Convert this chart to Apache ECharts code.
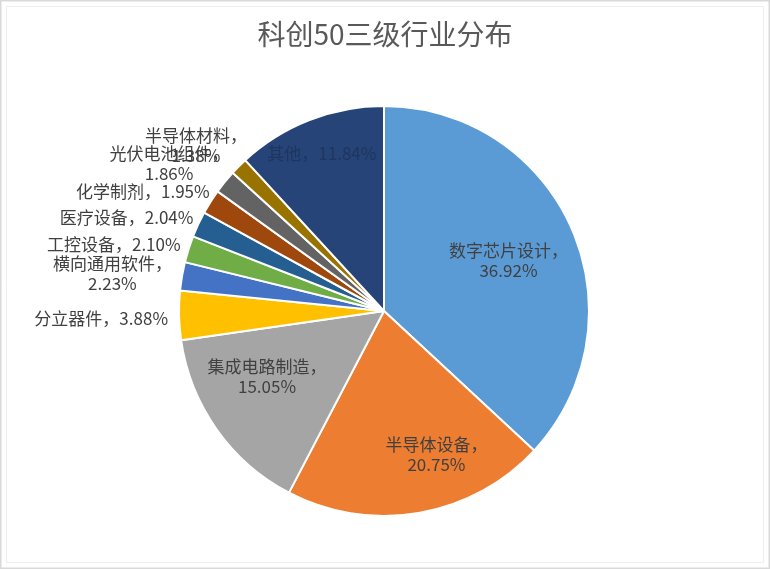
<!DOCTYPE html>
<html>
<head>
<meta charset="utf-8">
<script src="https://cdn.jsdelivr.net/npm/echarts@6/dist/echarts.min.js"></script>
<style>
  html, body { margin: 0; padding: 0; background: #fff; }
  #chart { width: 770px; height: 569px; }
</style>
</head>
<body>
<div id="chart"></div>
<script>
// industries, clockwise from 12 o'clock
var categories = ['数字芯片设计', '半导体设备', '集成电路制造', '分立器件', '横向通用软件',
                  '工控设备', '医疗设备', '化学制剂', '光伏电池组件', '半导体材料', '其他'];
var shares = [36.92, 20.75, 15.05, 3.88, 2.23, 2.10, 2.04, 1.95, 1.86, 1.38, 11.84];

var palette = ['#5b9bd5', '#ed7d31', '#a5a5a5', '#ffc000', '#4472c4', '#70ad47',
               '#255e91', '#9e480e', '#636363', '#997300', '#264478'];
var insideNames = ['数字芯片设计', '半导体设备', '集成电路制造'];
// nudges so the inside labels sit where Excel's "best fit" put them
var insideNudge = { '数字芯片设计': [-8, 7], '半导体设备': [28, 1], '集成电路制造': [1, -18] };

var FONT = '"Noto Sans CJK SC", "Noto Sans", sans-serif';
var CENTER = ['384', '311'];
var R = 205;

function labelText(p) {
    var v = p.value.toFixed(2) + '%';
    return p.name.length >= 5 ? p.name + '，\n' + v : p.name + '，' + v;
}

// middle angle of each slice, degrees clockwise from 12 o'clock
var total = 0;
for (var k = 0; k < shares.length; k++) total += shares[k];
var midAngle = [];
var run = 0;
for (var k = 0; k < shares.length; k++) {
    midAngle.push((run + shares[k] / 2) / total * 360);
    run += shares[k];
}

var mainData = [], labelData = [], otherData = [];
for (var i = 0; i < categories.length; i++) {
    var name = categories[i];
    mainData.push({ name: name, value: shares[i], itemStyle: { color: palette[i] } });

    var inside = insideNames.indexOf(name) >= 0;
    labelData.push({
        name: name,
        value: shares[i],
        label: { show: name !== '其他', position: inside ? 'inside' : 'outside' }
    });
    otherData.push({
        name: name,
        value: shares[i],
        label: { show: name === '其他', position: 'inside' }
    });
}

var chart = echarts.init(document.getElementById('chart'));
var option = {
    backgroundColor: '#fff',
    animation: false,
    title: {
        text: '科创50三级行业分布',
        left: 'center',
        top: 15,
        textStyle: { color: '#595959', fontSize: 28, fontWeight: 'normal', fontFamily: FONT }
    },
    graphic: [
        { type: 'rect', shape: { x: 0.5, y: 0.5, width: 769, height: 568 },
          style: { fill: 'none', stroke: '#d9d9d9', lineWidth: 2 }, silent: true },
        { type: 'rect', shape: { x: 6.5, y: 6.5, width: 757, height: 556 },
          style: { fill: 'none', stroke: '#eeeeee', lineWidth: 1 }, silent: true }
    ],
    series: [
        {
            type: 'pie',
            center: CENTER,
            radius: [0, R],
            startAngle: 90,
            clockwise: true,
            silent: true,
            label: { show: false },
            labelLine: { show: false },
            itemStyle: { borderColor: '#fff', borderWidth: 2 },
            data: mainData
        },
        {
            type: 'pie',
            center: CENTER,
            radius: [78, R],
            startAngle: 90,
            clockwise: true,
            silent: true,
            avoidLabelOverlap: false,
            itemStyle: { color: 'rgba(0,0,0,0)', borderWidth: 0 },
            label: {
                color: '#404040',
                fontFamily: FONT,
                fontSize: 17,
                lineHeight: 20,
                formatter: labelText
            },
            labelLine: { show: false, length: 6, length2: 0 },
            labelLayout: function(params) {
                var name = categories[params.dataIndex];
                if (insideNudge[name]) {
                    return { dx: insideNudge[name][0], dy: insideNudge[name][1] };
                }
                var a = midAngle[params.dataIndex] * Math.PI / 180;
                var ux = Math.sin(a), uy = -Math.cos(a);
                var h = params.labelRect.height;
                return {
                    align: 'center',
                    dx: -params.labelRect.width / 2 + (1 - Math.abs(ux)) * 60,
                    dy: uy * (h / 2 + 8) + 3
                };
            },
            data: labelData
        },
        {
            type: 'pie',
            center: CENTER,
            radius: [131, R],
            startAngle: 90,
            clockwise: true,
            silent: true,
            itemStyle: { color: 'rgba(0,0,0,0)', borderWidth: 0 },
            label: { color: '#1f3560', fontFamily: FONT, fontSize: 17, formatter: labelText,
                     offset: [0, 2] },
            labelLine: { show: false },
            data: otherData
        }
    ]
};
chart.setOption(option);
window.onresize = function() {
    chart.resize();
};
</script>
</body>
</html>
